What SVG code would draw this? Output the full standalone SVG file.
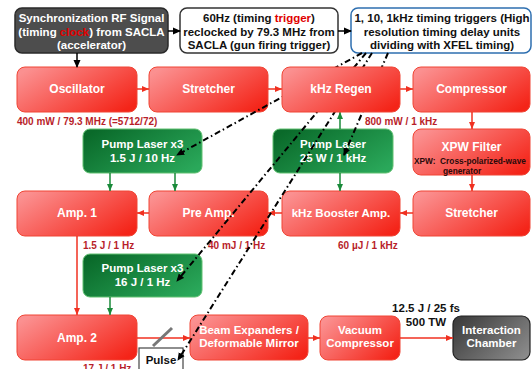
<svg xmlns="http://www.w3.org/2000/svg" width="532" height="369" viewBox="0 0 532 369">
<defs>
<linearGradient id="gRed" x1="0" y1="0.2" x2="1" y2="0.8">
<stop offset="0" stop-color="#fb9090"/><stop offset="1" stop-color="#f42418"/>
</linearGradient>
<linearGradient id="gGreen" x1="0" y1="0.2" x2="1" y2="0.8">
<stop offset="0" stop-color="#0a6a2a"/><stop offset="1" stop-color="#2aa85a"/>
</linearGradient>
<linearGradient id="gGrey" x1="0" y1="0.2" x2="1" y2="0.8">
<stop offset="0" stop-color="#3e3e3e"/><stop offset="1" stop-color="#8a8a8a"/>
</linearGradient>
<marker id="aK" markerWidth="8" markerHeight="8" refX="7" refY="4" orient="auto" markerUnits="userSpaceOnUse"><path d="M0,0.5 L8,4 L0,7.5 Z" fill="#000"/></marker>
<marker id="aR" markerWidth="8" markerHeight="8" refX="7" refY="4" orient="auto" markerUnits="userSpaceOnUse"><path d="M0,1 L7,4 L0,7 Z" fill="#f03020"/></marker>
<marker id="aG" markerWidth="8" markerHeight="8" refX="7" refY="4" orient="auto" markerUnits="userSpaceOnUse"><path d="M0,1 L7,4 L0,7 Z" fill="#1a8a3a"/></marker>
<style>
.red{fill:url(#gRed);stroke:#f04535;stroke-width:1}
.green{fill:url(#gGreen);stroke:#60c070;stroke-width:1}
.t{font-family:"Liberation Sans",Arial,sans-serif;font-weight:bold;font-size:12px;fill:#fff;text-anchor:middle}
.t2{font-family:"Liberation Sans",Arial,sans-serif;font-weight:bold;font-size:11.5px;fill:#fff;text-anchor:middle}
.tk{font-family:"Liberation Sans",Arial,sans-serif;font-weight:bold;font-size:11.5px;fill:#111;text-anchor:middle}
.lbl{font-family:"Liberation Sans",Arial,sans-serif;font-weight:bold;font-size:10px;fill:#b81e2a}
.rl{stroke:#f03020;stroke-width:1.5;fill:none;marker-end:url(#aR)}
.gl{stroke:#1a8a3a;stroke-width:1.5;fill:none;marker-end:url(#aG)}
.kl{stroke:#000;stroke-width:1.5;fill:none;marker-end:url(#aK)}
.dd{stroke:#000;stroke-width:2;fill:none;stroke-dasharray:6 3 1.5 3;marker-end:url(#aK)}
</style>
</defs>
<rect width="532" height="369" fill="#fff"/>

<g id="sync">
<rect x="15" y="8" width="153" height="45" rx="7" fill="#4d4d4d" stroke="#2a2a2a" stroke-width="1.5"/>
<text class="t2" x="91.5" y="22">Synchronization RF Signal</text>
<text class="t2" x="91.5" y="36">(timing <tspan fill="#e00000">clock</tspan>) from SACLA</text>
<text class="t2" x="91.5" y="49">(accelerator)</text>
</g>
<g id="trigger60">
<rect x="180" y="8" width="158" height="45" rx="7" fill="#fff" stroke="#333" stroke-width="1.5"/>
<text class="tk" x="259" y="22">60Hz (timing <tspan fill="#e00000">trigger</tspan>)</text>
<text class="tk" x="259" y="36">reclocked by 79.3 MHz from</text>
<text class="tk" x="259" y="49">SACLA (gun firing trigger)</text>
</g>
<g id="triggers">
<rect x="351" y="8" width="180" height="45" rx="7" fill="#fff" stroke="#2e6fb0" stroke-width="1.5"/>
<text class="tk" x="442" y="22">1, 10, 1kHz timing triggers (High</text>
<text class="tk" x="442" y="36">resolution timing delay units</text>
<text class="tk" x="442" y="49">dividing with XFEL timing)</text>
</g>

<g id="oscillator">
<rect class="red" x="17" y="67" width="120" height="45" rx="8"/>
<text class="t" x="77" y="93">Oscillator</text>
</g>
<g id="stretcher1">
<rect class="red" x="149" y="67" width="119" height="45" rx="8"/>
<text class="t" x="208.5" y="93">Stretcher</text>
</g>
<g id="compressor">
<rect class="red" x="413" y="67" width="117" height="45" rx="8"/>
<text class="t" x="471.5" y="93">Compressor</text>
</g>
<text class="lbl" x="17" y="125">400 mW / 79.3 MHz (=5712/72)</text>
<text class="lbl" x="365" y="125">800 mW / 1 kHz</text>

<g id="pump1">
<rect class="green" x="83" y="129" width="119" height="44" rx="7"/>
<text class="t2" x="142.5" y="148">Pump Laser x3</text>
<text class="t2" x="142.5" y="162">1.5 J / 10 Hz</text>
</g>
<g id="pump25">
<rect class="green" x="273" y="129" width="120" height="44" rx="7"/>
<text class="t2" x="333" y="148">Pump Laser</text>
<text class="t2" x="333" y="162">25 W / 1 kHz</text>
</g>
<g id="xpw">
<rect class="red" x="413" y="129" width="117" height="46" rx="8"/>
<text class="t" x="471.5" y="151">XPW Filter</text>
<text x="414" y="164" font-family="Liberation Sans, Arial, sans-serif" font-weight="bold" font-size="8.3" fill="#2a0a0a" xml:space="preserve">XPW:  Cross-polarized-wave</text>
<text x="443" y="174" font-family="Liberation Sans, Arial, sans-serif" font-weight="bold" font-size="8.3" fill="#2a0a0a">generator</text>
</g>

<g id="amp1">
<rect class="red" x="17" y="191" width="120" height="45" rx="8"/>
<text class="t" x="77" y="217">Amp. 1</text>
</g>
<g id="preamp">
<rect class="red" x="149" y="191" width="119" height="45" rx="8"/>
<text class="t" x="208.5" y="217">Pre Amp.</text>
</g>
<g id="booster">
<rect class="red" x="282" y="191" width="118" height="45" rx="8"/>
<text class="t2" x="341" y="217">kHz Booster Amp.</text>
</g>
<g id="stretcher2">
<rect class="red" x="413" y="191" width="117" height="45" rx="8"/>
<text class="t" x="471.5" y="217">Stretcher</text>
</g>
<text class="lbl" x="83" y="249">1.5 J / 1 Hz</text>
<text class="lbl" x="208" y="249">40 mJ / 1 Hz</text>
<text class="lbl" x="338" y="249">60 µJ / 1 kHz</text>

<g id="pump16">
<rect class="green" x="83" y="254" width="119" height="43" rx="7"/>
<text class="t2" x="142.5" y="272">Pump Laser x3</text>
<text class="t2" x="142.5" y="286">16 J / 1 Hz</text>
</g>

<g id="amp2">
<rect class="red" x="17" y="315" width="120" height="45" rx="8"/>
<text class="t" x="77" y="342">Amp. 2</text>
</g>
<g id="beamexp">
<rect class="red" x="190" y="315" width="118" height="45" rx="8"/>
<text class="t2" x="249" y="334">Beam Expanders /</text>
<text class="t2" x="249" y="347">Deformable Mirror</text>
</g>
<g id="vacuum">
<rect class="red" x="320" y="316" width="80" height="44" rx="8"/>
<text class="t2" x="360" y="334">Vacuum</text>
<text class="t2" x="360" y="347">Compressor</text>
</g>
<g id="chamber">
<rect x="453" y="316" width="77" height="44" rx="8" fill="url(#gGrey)" stroke="#222" stroke-width="1.2"/>
<text class="t2" x="491.5" y="334">Interaction</text>
<text class="t2" x="491.5" y="347">Chamber</text>
</g>
<text class="tk" x="426" y="312">12.5 J / 25 fs</text>
<text class="tk" x="426" y="326">500 TW</text>
<text class="lbl" x="83" y="372">17 J / 1 Hz</text>

<g id="pulsepicker">
<rect x="139" y="348" width="44" height="30" fill="#fff" stroke="#444" stroke-width="1.2"/>
<text class="tk" x="161" y="364">Pulse</text>
<text class="tk" x="161" y="377">Picker</text>
</g>

<g id="connectors">
<line class="kl" x1="168" y1="31" x2="180" y2="31"/>
<line class="kl" x1="338" y1="31" x2="351" y2="31"/>
<line class="kl" x1="77" y1="53" x2="77" y2="67"/>
<line class="rl" x1="137" y1="89" x2="149" y2="89"/>
<line class="rl" x1="268" y1="89" x2="282" y2="89"/>
<line class="rl" x1="400" y1="89" x2="413" y2="89"/>
<line class="rl" x1="472" y1="112" x2="472" y2="129"/>
<line class="rl" x1="472" y1="175" x2="472" y2="191"/>
<line class="rl" x1="413" y1="213" x2="400" y2="213"/>
<line class="rl" x1="282" y1="213" x2="268" y2="213"/>
<line class="rl" x1="149" y1="213" x2="137" y2="213"/>
<line class="rl" x1="77" y1="236" x2="77" y2="315"/>
<line class="rl" x1="137" y1="338" x2="190" y2="338"/>
<line class="rl" x1="308" y1="338" x2="320" y2="338"/>
<line class="rl" x1="400" y1="338" x2="453" y2="338"/>
<line class="gl" x1="110" y1="173" x2="110" y2="191"/>
<line class="gl" x1="175" y1="173" x2="175" y2="191"/>
<line class="gl" x1="340" y1="129" x2="340" y2="112"/>
<line class="gl" x1="340" y1="173" x2="340" y2="191"/>
<line class="gl" x1="110" y1="297" x2="110" y2="315"/>
<line x1="153" y1="346" x2="172" y2="328" stroke="#777" stroke-width="3"/>
<line class="dd" x1="362" y1="53" x2="177" y2="155"/>
<line class="dd" x1="366" y1="53" x2="177" y2="281"/>
<line class="dd" x1="372" y1="53" x2="178" y2="360"/>
<line class="dd" x1="388" y1="53" x2="344" y2="155"/>
</g>

<g id="regen">
<rect class="red" x="282" y="67" width="118" height="45" rx="8"/>
<text class="t" x="341" y="93">kHz Regen</text>
</g>
</svg>
